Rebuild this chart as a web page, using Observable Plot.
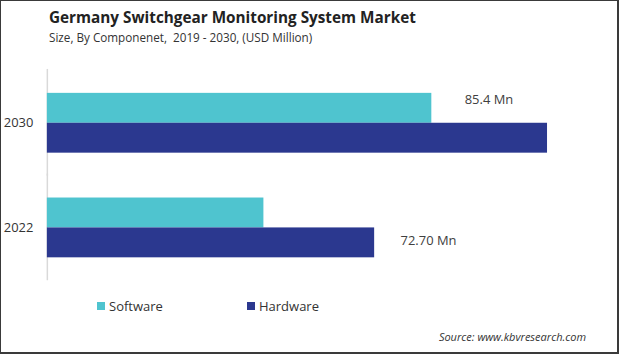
<!DOCTYPE html>
<html><head><meta charset="utf-8">
<script src="https://cdn.jsdelivr.net/npm/d3@7"></script>
<script src="https://cdn.jsdelivr.net/npm/@observablehq/plot@0.6"></script>
<style>
body{margin:0;background:#fff;}
#wrap{position:relative;width:619px;height:354px;box-sizing:border-box;border-style:solid;border-color:#3a3a3a;border-width:1px 2px 2px 1px;overflow:hidden;font-family:"Open Sans",sans-serif;color:#333;background:#fff;}
#title{position:absolute;left:48px;top:6px;font-size:15.3px;font-weight:700;line-height:20px;color:#222;white-space:nowrap;}
#subtitle{position:absolute;left:48px;top:28px;font-size:11.7px;line-height:16px;color:#333;white-space:nowrap;}
#chart{position:absolute;left:-1px;top:49px;}
.leg{position:absolute;top:297px;font-size:13px;line-height:16px;color:#333;white-space:nowrap;}
.sw{position:absolute;width:8px;height:8px;top:301px;}
#source{position:absolute;right:31px;top:328px;font-size:11px;font-style:italic;line-height:16px;color:#333;white-space:nowrap;}
</style></head>
<body>
<div id="wrap">
  <div id="title">Germany Switchgear Monitoring System Market</div>
  <div id="subtitle">Size, By Componenet,&nbsp; 2019 - 2030, (USD Million)</div>
  <div id="chart"></div>
  <div id="legend"></div>
  <div id="source">Source: www.kbvresearch.com</div>
</div>
<script>
const years = ["2030", "2022"];
const components = ["Software", "Hardware"];
const colors = ["#4fc4cf", "#2b388f"];
const softwareValues = [85.4, 48.1];   // 2030, 2022
const hardwareValues = [111.1, 72.70]; // 2030, 2022
const labelYears = ["2030", "2022"];
const labelComponents = ["Software", "Hardware"];
const labelValues = [85.4, 72.70];
const labelTexts = ["85.4 Mn", "72.70 Mn"];

const data = [];
years.forEach((y, i) => {
  data.push({year: y, component: "Software", value: softwareValues[i]});
  data.push({year: y, component: "Hardware", value: hardwareValues[i]});
});
const labels = labelYears.map((y, i) => ({year: y, component: labelComponents[i], value: labelValues[i], text: labelTexts[i]}));
const axisRule = years.map(y => ({year: y, value: 0}));

const chart = Plot.plot({
  width: 619, height: 240,
  marginTop: 19, marginBottom: 9, marginLeft: 47, marginRight: 30,
  style: {fontFamily: "'Open Sans', sans-serif", fontSize: "13px", color: "#333", background: "transparent"},
  x: {domain: [0, 120], axis: null},
  y: {domain: components, padding: 0, axis: null},
  fy: {domain: years, paddingInner: 0.419, paddingOuter: 0.219, label: null, axis: "left", tickSize: 0, tickPadding: 14},
  color: {domain: components, range: colors},
  marks: [
    Plot.ruleX(axisRule, {fy: "year", x: "value", stroke: "#d9d9d9", strokeWidth: 1.5, insetTop: -23, insetBottom: -23}),
    Plot.barX(data, {fy: "year", y: "component", x: "value", fill: "component"}),
    Plot.text(labels.slice(0, 1), {fy: "year", y: "component", x: "value", text: "text", textAnchor: "start", dx: 33, dy: -8, fontSize: 13, fill: "#404040"}),
    Plot.text(labels.slice(1, 2), {fy: "year", y: "component", x: "value", text: "text", textAnchor: "start", dx: 26, dy: -2, fontSize: 13, fill: "#404040"})
  ]
});
document.getElementById("chart").appendChild(chart);

const legend = document.getElementById("legend");
const legX = [96, 246];
components.forEach((c, i) => {
  const sw = document.createElement("div");
  sw.className = "sw"; sw.style.left = legX[i] + "px"; sw.style.background = colors[i];
  legend.appendChild(sw);
  const t = document.createElement("div");
  t.className = "leg"; t.style.left = (legX[i] + 12) + "px"; t.textContent = c;
  legend.appendChild(t);
});
</script>
</body></html>
